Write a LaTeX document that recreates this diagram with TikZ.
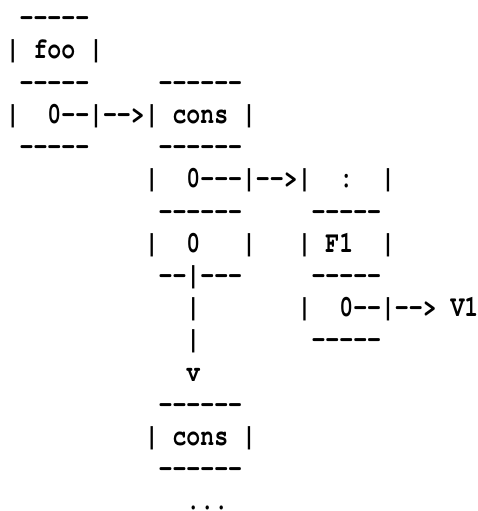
\documentclass[tikz,border=0pt]{standalone}
\usepackage{fontspec}
\usepackage{graphicx}
\setmonofont{TeX Gyre Cursor}
\tikzset{
  asc/.style={anchor=base west, inner sep=0pt, outer sep=0pt, text=black,
    font=\ttfamily\bfseries\fontsize{23.17}{23.17}\selectfont}
}
\newcommand\ascseg[4]{\node[asc] (#1) at ({(5.75+13.9*#2)*1pt},{-(26.8+32.2*#3)*1pt}) {\scalebox{1}[1.3]{#4}};}
\begin{document}
\begin{tikzpicture}
\useasboundingbox[fill=white] (0,0) rectangle (477pt,-511pt);
% row 0-4: foo box and first cons box
\ascseg{fooTop}{1}{0}{-----}
\ascseg{foo}{0}{1}{| foo |}
\ascseg{fooMid}{1}{2}{-----}
\ascseg{consTop}{11}{2}{------}
\ascseg{fooBar}{0}{3}{|}
\ascseg{fooPtr}{3}{3}{0--|}
\ascseg{fooArr}{7}{3}{-->}
\ascseg{cons}{10}{3}{| cons |}
\ascseg{fooBot}{1}{4}{-----}
\ascseg{consMid}{11}{4}{------}
% row 5
\ascseg{carL}{10}{5}{|}
\ascseg{carPtr}{13}{5}{0---|}
\ascseg{carArr}{18}{5}{-->}
\ascseg{colL}{21}{5}{|}
\ascseg{colon}{24}{5}{:}
\ascseg{colR}{27}{5}{|}
% row 6
\ascseg{consMid2}{11}{6}{------}
\ascseg{colMid}{22}{6}{-----}
% row 7
\ascseg{cdrL}{10}{7}{|}
\ascseg{cdrPtr}{13}{7}{0}
\ascseg{cdrR}{17}{7}{|}
\ascseg{fone}{21}{7}{| F1}
\ascseg{foneR}{27}{7}{|}
% row 8
\ascseg{consBot}{11}{8}{--|---}
\ascseg{foneMid}{22}{8}{-----}
% row 9
\ascseg{down1}{13}{9}{|}
\ascseg{valL}{21}{9}{|}
\ascseg{valPtr}{24}{9}{0--|--> V1}
% row 10
\ascseg{down2}{13}{10}{|}
\ascseg{valBot}{22}{10}{-----}
% rows 11-15
\ascseg{downArr}{13}{11}{v}
\ascseg{cons2Top}{11}{12}{------}
\ascseg{cons2}{10}{13}{| cons |}
\ascseg{cons2Bot}{11}{14}{------}
\ascseg{dots}{13}{15}{...}
\end{tikzpicture}
\end{document}
